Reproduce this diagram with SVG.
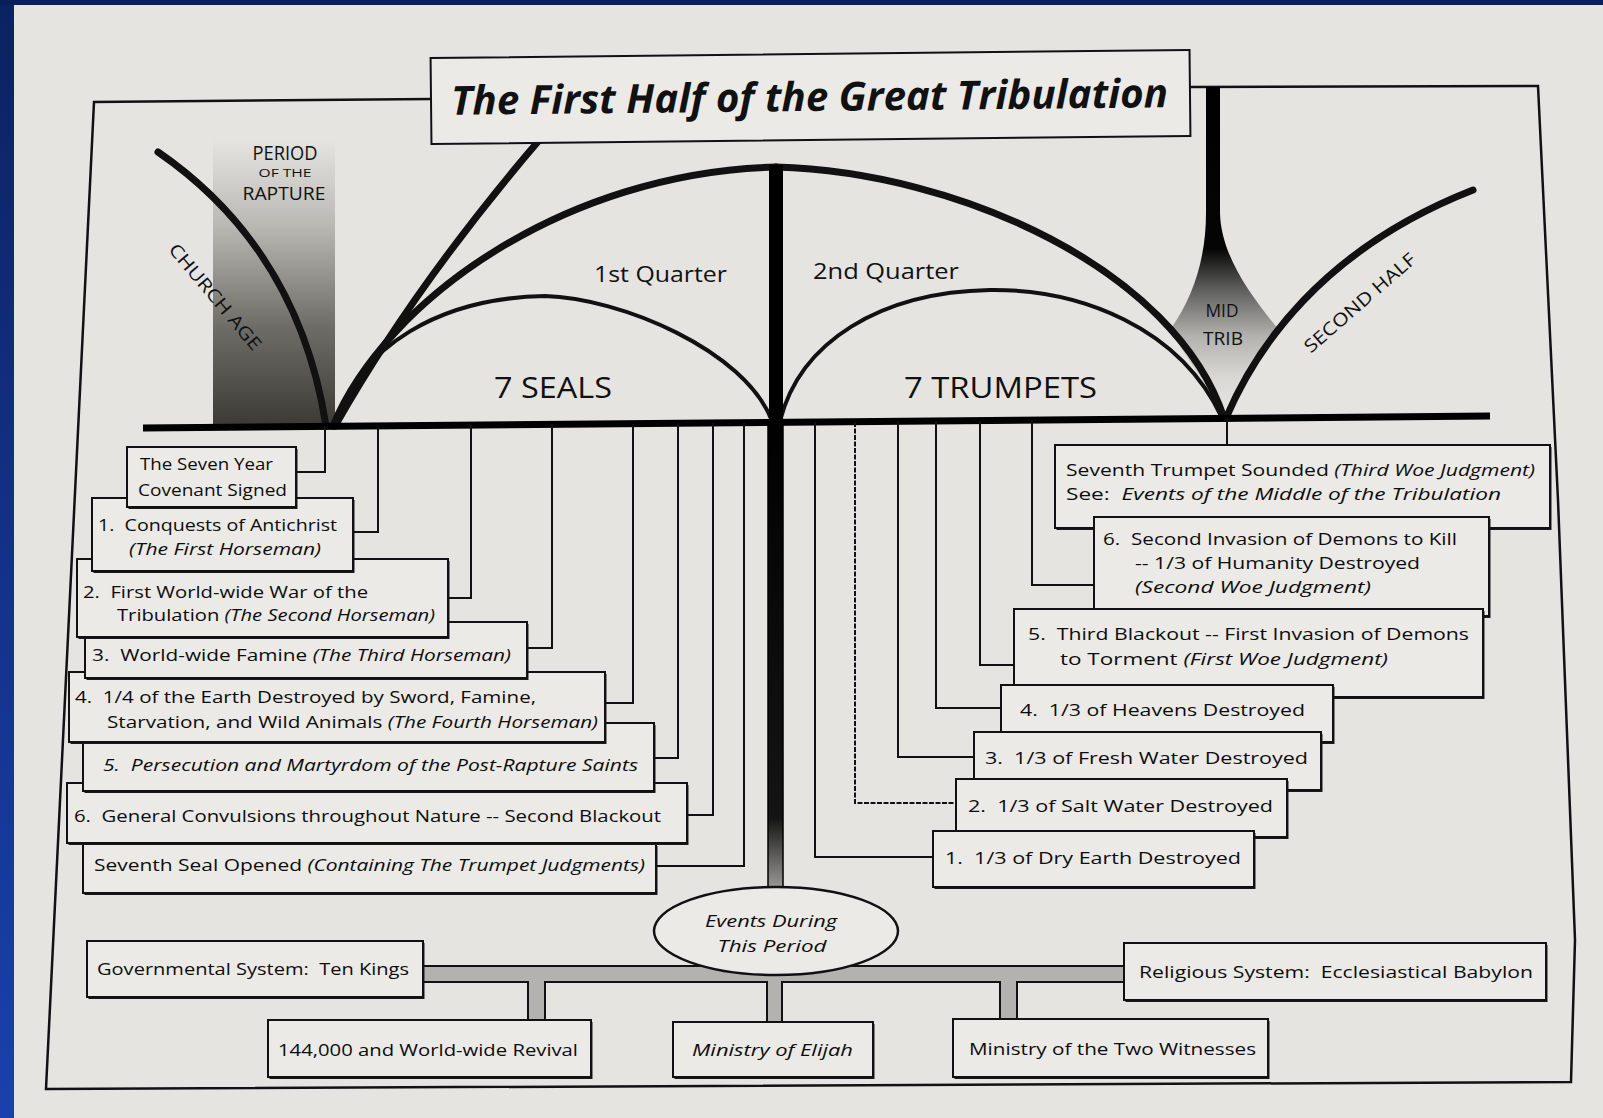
<svg xmlns="http://www.w3.org/2000/svg" width="1603" height="1118" viewBox="0 0 1603 1118">
<defs>
<linearGradient id="blueL" x1="0" y1="0" x2="0" y2="1"><stop offset="0" stop-color="#0b2262"/><stop offset="1" stop-color="#1b40ad"/></linearGradient>
<linearGradient id="rapt" gradientUnits="userSpaceOnUse" x1="0" y1="140" x2="0" y2="426"><stop offset="0" stop-color="#e5e4e1"/><stop offset="0.3" stop-color="#b9b8b3"/><stop offset="0.65" stop-color="#6e6d67"/><stop offset="1" stop-color="#3b3a34"/></linearGradient>
<linearGradient id="midg" gradientUnits="userSpaceOnUse" x1="0" y1="87" x2="0" y2="410"><stop offset="0" stop-color="#000"/><stop offset="0.5" stop-color="#050505"/><stop offset="0.62" stop-color="#5a5a58"/><stop offset="0.77" stop-color="#b2b1ad"/><stop offset="0.9" stop-color="#d9d8d5"/><stop offset="1" stop-color="#e5e4e1"/></linearGradient>
<linearGradient id="barg" gradientUnits="userSpaceOnUse" x1="0" y1="421" x2="0" y2="888"><stop offset="0" stop-color="#000"/><stop offset="0.85" stop-color="#141414"/><stop offset="1" stop-color="#9a9996"/></linearGradient>
<style>
.ln{fill:none;stroke:#111;stroke-linecap:round}
.box{fill:#ebeae7;stroke:#111;stroke-width:2}
.sh{fill:#1a1a1a}
.cn{fill:none;stroke:#111;stroke-width:2}
.t{font-family:"Open Sans","Liberation Sans",sans-serif;font-size:17px;fill:#0d0d0d;white-space:pre}
.i{font-style:italic}
.lab{font-family:"Open Sans","Liberation Sans",sans-serif;fill:#111}
</style>
</defs>
<rect x="0" y="0" width="1603" height="1118" fill="#e5e4e1"/>
<rect x="0" y="0" width="14" height="1118" fill="url(#blueL)"/>
<rect x="0" y="0" width="1603" height="5" fill="#0a1e57"/>
<path d="M431,99 L94,102 L46,1089 L1571,1082 L1575,940 L1558,500 L1538,86 L1190,87" fill="none" stroke="#111" stroke-width="2.5"/>

<g id="rapture-period">
<rect x="213" y="140" width="122" height="286" fill="url(#rapt)"/>
<text class="lab" x="285" y="160" font-size="20" text-anchor="middle" textLength="65" lengthAdjust="spacingAndGlyphs">PERIOD</text>
<text class="lab" x="285" y="177" font-size="11.5" text-anchor="middle" textLength="53" lengthAdjust="spacingAndGlyphs">OF THE</text>
<text class="lab" x="284" y="200" font-size="19" text-anchor="middle" textLength="83" lengthAdjust="spacingAndGlyphs">RAPTURE</text>
</g>

<g id="mid-trib">
<path d="M1206,87 L1220,87 L1220,213 C1221,255 1250,295 1279,330 L1226,418 L1170,330 C1195,295 1206,255 1206,213 Z" fill="url(#midg)"/>
<text class="lab" x="1222" y="317" font-size="19" text-anchor="middle" fill="#2a2a2a" textLength="33" lengthAdjust="spacingAndGlyphs">MID</text>
<text class="lab" x="1223" y="345" font-size="19" text-anchor="middle" fill="#2a2a2a" textLength="40" lengthAdjust="spacingAndGlyphs">TRIB</text>
</g>

<g id="timeline">
<path class="ln" d="M158,152 C235,205 305,290 326,426" stroke-width="7"/>
<path class="ln" d="M335,426 Q415,285 541,138" stroke-width="7"/>
<path class="ln" d="M333,426 C385,300 565,172 776,167" stroke-width="7"/>
<path class="ln" d="M776,167 C960,172 1175,270 1224,418" stroke-width="7"/>
<path class="ln" d="M334,426 C360,345 440,298 545,296 C620,298 745,350 772,421" stroke-width="4"/>
<path class="ln" d="M780,421 C800,342 880,292 990,290 C1080,289 1180,327 1222,418" stroke-width="4"/>
<path class="ln" d="M1226,418 C1255,350 1320,250 1473,190" stroke-width="7"/>
<rect x="769" y="165" width="14" height="258" fill="#000"/>
<path d="M143,428 L1490,416" stroke="#000" stroke-width="7" fill="none"/>
<text class="lab" transform="translate(215,297) rotate(50)" x="0" y="6" font-size="18" text-anchor="middle" textLength="133" lengthAdjust="spacingAndGlyphs">CHURCH AGE</text>
<text class="lab" transform="translate(1360,303) rotate(-41)" x="0" y="6" font-size="18" text-anchor="middle" textLength="141" lengthAdjust="spacingAndGlyphs">SECOND HALF</text>
<text class="lab" x="594" y="282" font-size="22" textLength="133" lengthAdjust="spacingAndGlyphs">1st Quarter</text>
<text class="lab" x="813" y="279" font-size="22" textLength="146" lengthAdjust="spacingAndGlyphs">2nd Quarter</text>
<text class="lab" x="494" y="398" font-size="30" textLength="118" lengthAdjust="spacingAndGlyphs">7 SEALS</text>
<text class="lab" x="904" y="398" font-size="30" textLength="193" lengthAdjust="spacingAndGlyphs">7 TRUMPETS</text>
</g>

<g id="title" transform="translate(0,2) rotate(-0.6 810 95)">
<rect class="box" x="431" y="52" width="759" height="86" stroke-width="2.5"/>
<text class="lab" x="451" y="109" font-size="40" font-weight="700" font-style="italic" textLength="717" lengthAdjust="spacingAndGlyphs">The First Half of the Great Tribulation</text>
</g>

<g id="connectors">
<path class="cn" d="M325,426 V472 H296"/>
<path class="cn" d="M378,426 V532 H353"/>
<path class="cn" d="M471,425 V598 H448"/>
<path class="cn" d="M552,424 V648 H527"/>
<path class="cn" d="M633,424 V703 H605"/>
<path class="cn" d="M678,423 V758 H654"/>
<path class="cn" d="M713,423 V815 H687"/>
<path class="cn" d="M744,423 V866 H656"/>
<path class="cn" d="M815,422 V857 H933"/>
<path class="cn" d="M855,422 V803 H956" stroke="#555" stroke-dasharray="5 1.5"/>
<path class="cn" d="M898,421 V757 H974"/>
<path class="cn" d="M936,421 V708 H1001"/>
<path class="cn" d="M980,421 V665 H1014"/>
<path class="cn" d="M1032,420 V585 H1094"/>
<path class="cn" d="M1227,418 V445"/>
<rect x="768" y="421" width="15" height="467" fill="url(#barg)" stroke="#000" stroke-width="1.5"/>
<rect x="423" y="965" width="701" height="18" fill="#111"/>
<rect x="527" y="981" width="19" height="40" fill="#111"/>
<rect x="766" y="981" width="17" height="42" fill="#111"/>
<rect x="999" y="981" width="19" height="40" fill="#111"/>
<rect x="423" y="967" width="701" height="14" fill="#b3b2ae"/>
<rect x="529" y="980" width="15" height="41" fill="#b3b2ae"/>
<rect x="768" y="980" width="13" height="43" fill="#b3b2ae"/>
<rect x="1001" y="980" width="15" height="41" fill="#b3b2ae"/>
</g>

<g id="seal-7"><rect class="sh" x="84.5" y="846" width="573" height="49"/><rect class="box" x="83" y="844" width="573" height="49"/><text class="t" x="94" y="871" textLength="551" lengthAdjust="spacingAndGlyphs">Seventh Seal Opened <tspan class="i">(Containing The Trumpet Judgments)</tspan></text></g>
<g id="seal-6"><rect class="sh" x="68.5" y="785" width="620" height="60"/><rect class="box" x="67" y="783" width="620" height="60"/><text class="t" x="74" y="822" textLength="587" lengthAdjust="spacingAndGlyphs">6.  General Convulsions throughout Nature -- Second Blackout</text></g>
<g id="seal-5"><rect class="sh" x="84.5" y="725" width="571" height="68"/><rect class="box" x="83" y="723" width="571" height="68"/><text class="t i" x="103" y="771" textLength="535" lengthAdjust="spacingAndGlyphs">5.  Persecution and Martyrdom of the Post-Rapture Saints</text></g>
<g id="seal-4"><rect class="sh" x="70.5" y="674" width="536" height="70"/><rect class="box" x="69" y="672" width="536" height="70"/><text class="t" x="75" y="703" textLength="461" lengthAdjust="spacingAndGlyphs">4.  1/4 of the Earth Destroyed by Sword, Famine,</text><text class="t" x="107" y="728" textLength="491" lengthAdjust="spacingAndGlyphs">Starvation, and Wild Animals <tspan class="i">(The Fourth Horseman)</tspan></text></g>
<g id="seal-3"><rect class="sh" x="86.5" y="624" width="442" height="56"/><rect class="box" x="85" y="622" width="442" height="56"/><text class="t" x="92" y="661" textLength="419" lengthAdjust="spacingAndGlyphs">3.  World-wide Famine <tspan class="i">(The Third Horseman)</tspan></text></g>
<g id="seal-2"><rect class="sh" x="78.5" y="561" width="371" height="78"/><rect class="box" x="77" y="559" width="371" height="78"/><text class="t" x="83" y="598" textLength="285" lengthAdjust="spacingAndGlyphs">2.  First World-wide War of the</text><text class="t" x="117" y="621" textLength="318" lengthAdjust="spacingAndGlyphs">Tribulation <tspan class="i">(The Second Horseman)</tspan></text></g>
<g id="seal-1"><rect class="sh" x="93.5" y="500" width="261" height="73"/><rect class="box" x="92" y="498" width="261" height="73"/><text class="t" x="98" y="531" textLength="239" lengthAdjust="spacingAndGlyphs">1.  Conquests of Antichrist</text><text class="t i" x="129" y="555" textLength="192" lengthAdjust="spacingAndGlyphs">(The First Horseman)</text></g>
<g id="covenant"><rect class="sh" x="128.5" y="449" width="169" height="60"/><rect class="box" x="127" y="447" width="169" height="60"/><text class="t" x="140" y="470" textLength="133" lengthAdjust="spacingAndGlyphs">The Seven Year</text><text class="t" x="138" y="496" textLength="149" lengthAdjust="spacingAndGlyphs">Covenant Signed</text></g>

<g id="trumpet-7"><rect class="sh" x="1056.5" y="447" width="495" height="83"/><rect class="box" x="1055" y="445" width="495" height="83"/><text class="t" x="1066" y="476" textLength="469" lengthAdjust="spacingAndGlyphs">Seventh Trumpet Sounded <tspan class="i">(Third Woe Judgment)</tspan></text><text class="t" x="1066" y="500" textLength="435" lengthAdjust="spacingAndGlyphs">See:  <tspan class="i">Events of the Middle of the Tribulation</tspan></text></g>
<g id="trumpet-6"><rect class="sh" x="1095.5" y="519" width="395" height="99"/><rect class="box" x="1094" y="517" width="395" height="99"/><text class="t" x="1103" y="545" textLength="354" lengthAdjust="spacingAndGlyphs">6.  Second Invasion of Demons to Kill</text><text class="t" x="1135" y="569" textLength="285" lengthAdjust="spacingAndGlyphs">-- 1/3 of Humanity Destroyed</text><text class="t i" x="1135" y="593" textLength="236" lengthAdjust="spacingAndGlyphs">(Second Woe Judgment)</text></g>
<g id="trumpet-5"><rect class="sh" x="1015.5" y="611" width="469" height="88"/><rect class="box" x="1014" y="609" width="469" height="88"/><text class="t" x="1028" y="640" textLength="441" lengthAdjust="spacingAndGlyphs">5.  Third Blackout -- First Invasion of Demons</text><text class="t" x="1060" y="665" textLength="328" lengthAdjust="spacingAndGlyphs">to Torment <tspan class="i">(First Woe Judgment)</tspan></text></g>
<g id="trumpet-4"><rect class="sh" x="1002.5" y="687" width="332" height="57"/><rect class="box" x="1001" y="685" width="332" height="57"/><text class="t" x="1020" y="716" textLength="285" lengthAdjust="spacingAndGlyphs">4.  1/3 of Heavens Destroyed</text></g>
<g id="trumpet-3"><rect class="sh" x="975.5" y="734" width="347" height="58"/><rect class="box" x="974" y="732" width="347" height="58"/><text class="t" x="985" y="764" textLength="323" lengthAdjust="spacingAndGlyphs">3.  1/3 of Fresh Water Destroyed</text></g>
<g id="trumpet-2"><rect class="sh" x="957.5" y="781" width="331" height="58"/><rect class="box" x="956" y="779" width="331" height="58"/><text class="t" x="968" y="812" textLength="305" lengthAdjust="spacingAndGlyphs">2.  1/3 of Salt Water Destroyed</text></g>
<g id="trumpet-1"><rect class="sh" x="934.5" y="833" width="321" height="56"/><rect class="box" x="933" y="831" width="321" height="56"/><text class="t" x="945" y="864" textLength="296" lengthAdjust="spacingAndGlyphs">1.  1/3 of Dry Earth Destroyed</text></g>

<g id="events"><ellipse cx="776" cy="931" rx="122" ry="44" fill="#ebeae7" stroke="#111" stroke-width="2.5"/><text class="t i" x="771" y="927" text-anchor="middle" textLength="132" lengthAdjust="spacingAndGlyphs">Events During</text><text class="t i" x="772" y="952" text-anchor="middle" textLength="109" lengthAdjust="spacingAndGlyphs">This Period</text></g>
<g id="governmental"><rect class="sh" x="88.5" y="943" width="336" height="56"/><rect class="box" x="87" y="941" width="336" height="56"/><text class="t" x="97" y="975" textLength="312" lengthAdjust="spacingAndGlyphs">Governmental System:  Ten Kings</text></g>
<g id="religious"><rect class="sh" x="1125.5" y="945" width="422" height="57"/><rect class="box" x="1124" y="943" width="422" height="57"/><text class="t" x="1139" y="978" textLength="394" lengthAdjust="spacingAndGlyphs">Religious System:  Ecclesiastical Babylon</text></g>
<g id="revival"><rect class="sh" x="269.5" y="1022" width="323" height="57"/><rect class="box" x="268" y="1020" width="323" height="57"/><text class="t" x="278" y="1056" textLength="300" lengthAdjust="spacingAndGlyphs">144,000 and World-wide Revival</text></g>
<g id="elijah"><rect class="sh" x="674.5" y="1024" width="200" height="55"/><rect class="box" x="673" y="1022" width="200" height="55"/><text class="t i" x="692" y="1056" textLength="161" lengthAdjust="spacingAndGlyphs">Ministry of Elijah</text></g>
<g id="witnesses"><rect class="sh" x="954.5" y="1021" width="315" height="58"/><rect class="box" x="953" y="1019" width="315" height="58"/><text class="t" x="969" y="1055" textLength="287" lengthAdjust="spacingAndGlyphs">Ministry of the Two Witnesses</text></g>
</svg>
